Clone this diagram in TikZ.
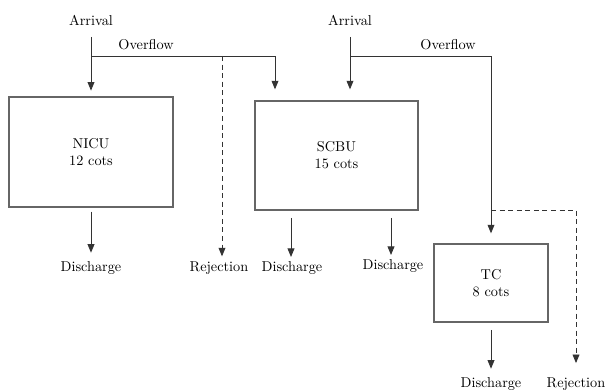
\documentclass[tikz,border=0pt]{standalone}
\usepackage{tikz}
\usetikzlibrary{arrows.meta,calc}

\begin{document}
\begin{tikzpicture}[
      x=0.7pt, y=-0.7pt,
      every node/.style={font=\normalsize},
      unit/.style={rectangle, draw=black!60, line width=0.9pt, align=center,
                   inner sep=0pt},
      lbl/.style={inner sep=2pt},
      flow/.style={draw=black!80, line width=0.6pt,
                   -{Triangle[length=6pt, width=4.8pt]}},
      rej/.style={flow, dash pattern=on 3.5pt off 2.5pt}
    ]
    \useasboundingbox (0,0) rectangle (606,389);
    % units
    \node[unit, minimum width=114.8pt, minimum height=77pt] (nicu) at (91,152) {NICU\\12 cots};
    \node[unit, minimum width=114.1pt, minimum height=76.3pt] (scbu) at (336.5,155.5) {SCBU\\15 cots};
    \node[unit, minimum width=79.8pt, minimum height=54.6pt] (tc) at (491,283) {TC\\8 cots};
    % labels on top
    \node[lbl] (arr1) at (91,20) {Arrival};
    \node[lbl] (ovf1) at (146,45) {Overflow};
    \node[lbl] (arr2) at (350,20) {Arrival};
    \node[lbl] (ovf2) at (448,45) {Overflow};
    % labels below
    \node[lbl] (dis1) at (91,268) {Discharge};
    \node[lbl] (rej1) at (219,268) {Rejection};
    \node[lbl] (dis2) at (292,268) {Discharge};
    \node[lbl] (dis3) at (393,266) {Discharge};
    \node[lbl] (dis4) at (491,384) {Discharge};
    \node[lbl] (rej2) at (576,384) {Rejection};
    % junctions
    \coordinate (j1) at (91,56);
    \coordinate (o1) at (275,56);
    \coordinate (d1) at (222,56);
    \coordinate (j2) at (350,56);
    \coordinate (o2) at (491,56);
    \coordinate (d2) at (491,210);
    \coordinate (d3) at (576,210);
    % arrivals and overflows
    \draw[flow, shorten <=6pt, shorten >=4pt] (arr1) -- (nicu);
    \draw[flow, shorten >=7.7pt] (j1) -- (o1) -- (o1 |- scbu.north);
    \draw[rej, shorten >=1.5pt] (d1) -- (d1 |- rej1.north);
    \draw[flow, shorten <=6pt, shorten >=7.7pt] (arr2) -- (arr2 |- scbu.north);
    \draw[flow, shorten >=7pt] (j2) -- (o2) -- (tc);
    \draw[rej, shorten >=8pt] (d2) -- (d3) -- (d3 |- rej2.north);
    % discharges
    \draw[flow, shorten <=2.8pt, shorten >=4pt] (nicu) -- (dis1);
    \draw[flow, shorten <=5pt, shorten >=1pt] (scbu.south -| 291,0) -- (dis2.north -| 291,0);
    \draw[flow, shorten <=5pt, shorten >=1pt] (scbu.south -| 391,0) -- (dis3.north -| 391,0);
    \draw[flow, shorten <=5pt, shorten >=4pt] (tc) -- (dis4);
  \end{tikzpicture}
\end{document}
